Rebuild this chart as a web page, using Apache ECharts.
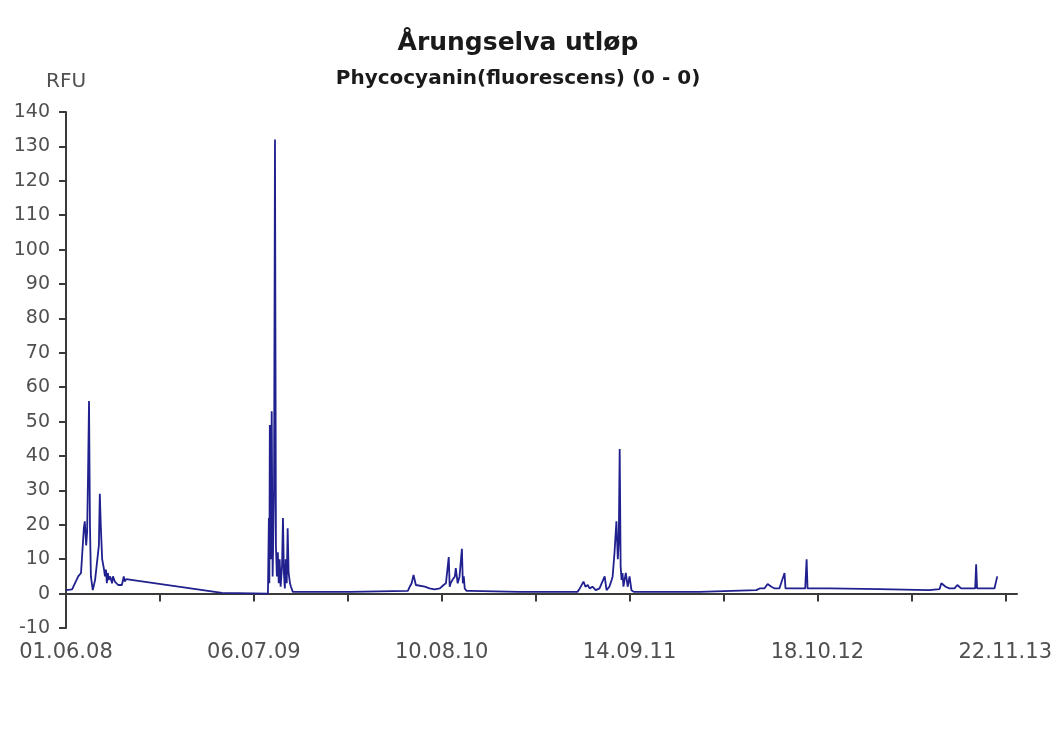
<!DOCTYPE html>
<html>
<head>
<meta charset="utf-8">
<title>Årungselva utløp</title>
<script src="https://cdn.jsdelivr.net/npm/echarts@6/dist/echarts.min.js"></script>
<style>
  html, body { margin: 0; padding: 0; background: #ffffff; }
  #chart { width: 1064px; height: 742px; }
</style>
</head>
<body>
<div id="chart"></div>
<script>
// Measurement series: days since the first sample (01.06.2008) and RFU readings
const dayOffsets = [
  0, 4, 13, 19, 26, 32, 38, 40, 43, 45, 47, 49, 51, 53, 57, 62, 66, 70, 72, 74,
  77, 81, 83, 85, 87, 89, 91, 94, 98, 100, 104, 106, 111, 115, 119, 123, 125, 128, 332, 430,
  432, 433, 434, 436, 438, 440, 443, 445, 447, 449, 451, 453, 455, 457, 460, 462, 464, 466, 468, 470,
  472, 474, 477, 479, 483, 604, 728,
  732, 736, 740, 745, 749, 764, 774, 785, 796, 800, 804, 809, 815, 817, 819, 823, 828, 830, 834, 838,
  843, 845, 847, 849, 853, 860, 966, 1089,
  1094, 1098, 1102, 1106, 1111, 1115, 1121, 1128, 1136, 1140, 1147, 1151, 1157, 1162, 1164, 1168, 1172, 1175, 1177, 1179,
  1181, 1183, 1185, 1187, 1192, 1196, 1200, 1204, 1209, 1213, 1349, 1470,
  1477, 1487, 1494, 1502, 1509, 1519, 1530, 1532, 1534, 1562, 1574, 1577, 1579, 1583, 1626, 1732, 1838,
  1860, 1864, 1868, 1873, 1881, 1892, 1898, 1902, 1906, 1923, 1936, 1938, 1940, 1955, 1977, 1981, 1983
];

const rfuValues = [
  1, 1, 1.2, 3, 5, 6, 19, 21, 14, 18, 35, 56, 20, 5, 1, 4, 9, 14, 29, 20,
  10, 7, 5, 7, 3, 6, 4, 5, 3, 5, 3.5, 4, 2.5, 2.5, 2.5, 5, 3.5, 4.2, 0.2, 0,
  22, 3, 49, 10, 53, 5, 30, 132, 14, 5, 12, 3, 10, 2, 8, 22, 6, 1.5, 10, 3,
  19, 6, 3, 2, 0.5, 0.5, 0.8,
  2, 3, 5.4, 2.5, 2.2, 2, 1.5, 1.2, 1.5, 2, 2.5, 3, 10.6, 2, 3, 4, 5, 7.4, 3, 5,
  13, 3, 5, 1.5, 0.8, 0.8, 0.5, 0.5,
  1.5, 2, 3.5, 2, 2.5, 1.5, 2, 1, 1.5, 2, 5, 1, 2, 4, 5, 12, 21, 10, 15, 42,
  8, 4, 6, 2, 6, 2, 5, 1, 0.5, 0.3, 0.5, 1,
  1.5, 1.5, 2.8, 2, 1.5, 1.5, 6, 1.5, 1.5, 1.5, 1.5, 10, 1.5, 1.5, 1.5, 1.3, 1,
  1.3, 3, 3, 2, 1.5, 1.5, 2.5, 2, 1.5, 1.5, 1.5, 8.5, 1.5, 1.5, 1.5, 1.5, 5
];

// Date ticks every 400 days, with intermediate ticks halfway between them
const tickDays = [0, 400, 800, 1200, 1600, 2000];
const tickLabels = ['01.06.08', '06.07.09', '10.08.10', '14.09.11', '18.10.12', '22.11.13'];
const allTickDays = [0, 200, 400, 600, 800, 1000, 1200, 1400, 1600, 1800, 2000];

const seriesData = dayOffsets.map((d, i) => [d, rfuValues[i]]);

const axisGrey = '#3a3a3a';
const labelGrey = '#505050';
const labelFont = 'DejaVu Sans, Liberation Sans, Arial, sans-serif';

const chart = echarts.init(document.getElementById('chart'), null, { renderer: 'canvas' });

chart.setOption({
  animation: false,
  backgroundColor: '#ffffff',
  title: [
    {
      text: 'Årungselva utløp',
      left: 513,
      top: 26,
      textAlign: 'center',
      textStyle: { fontFamily: labelFont, fontWeight: 'bold', fontSize: 25, color: '#1a1a1a' }
    },
    {
      text: 'Phycocyanin(fluorescens) (0 - 0)',
      left: 513,
      top: 64,
      textAlign: 'center',
      textStyle: { fontFamily: labelFont, fontWeight: 'bold', fontSize: 20, color: '#1a1a1a' }
    }
  ],
  grid: { left: 66, right: 47, top: 112, bottom: 114, outerBoundsMode: 'none' },
  xAxis: {
    type: 'value',
    min: 0,
    max: 2025,
    interval: 400,
    splitLine: { show: false },
    axisLine: { lineStyle: { color: axisGrey, width: 2 } },
    axisTick: { customValues: allTickDays, length: 8, lineStyle: { color: axisGrey, width: 2 } },
    axisLabel: {
      customValues: tickDays,
      formatter: (v) => {
        const i = tickDays.indexOf(v);
        return i >= 0 ? tickLabels[i] : '';
      },
      margin: 14,
      color: labelGrey,
      fontFamily: labelFont,
      fontSize: 21
    }
  },
  yAxis: {
    type: 'value',
    min: -10,
    max: 140,
    interval: 10,
    name: 'RFU',
    nameLocation: 'end',
    nameGap: 20,
    nameTextStyle: { color: labelGrey, fontFamily: labelFont, fontSize: 20, align: 'center' },
    splitLine: { show: false },
    axisLine: { show: true, lineStyle: { color: axisGrey, width: 2 } },
    axisTick: { show: true, length: 7, lineStyle: { color: axisGrey, width: 2 } },
    axisLabel: { margin: 16, color: labelGrey, fontFamily: labelFont, fontSize: 19 }
  },
  series: [
    {
      type: 'line',
      data: seriesData,
      showSymbol: false,
      symbol: 'none',
      lineStyle: { color: '#20208f', width: 1.8 },
      silent: true
    }
  ]
});
</script>
</body>
</html>
